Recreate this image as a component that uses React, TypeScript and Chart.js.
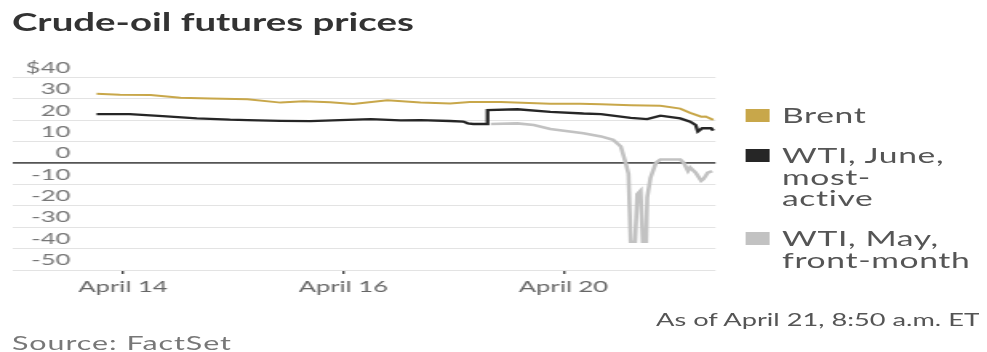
import React, { useEffect, useRef } from "react";
import { Chart, registerables } from "chart.js";

Chart.register(...registerables);

// Trading-day axis: 0 = April 14, 1 = April 15, 2 = April 16, 3 = April 17, 4 = April 20, 5 = April 21
const xTickDays = [0, 2, 4];
const xTickLabels = ["April 14", "April 16", "April 20"];
const yTicks = [40, 30, 20, 10, 0, -10, -20, -30, -40, -50];

const brentTimes = [-0.24, -0.03, 0.25, 0.52, 0.79, 1.13, 1.43, 1.64, 1.88, 2.09, 2.4, 2.7, 2.97, 3.15, 3.43, 3.88, 4.15, 4.34, 4.61, 4.88, 5.06, 5.15, 5.25, 5.29, 5.36];
const brentPrices = [32.4, 32.0, 31.9, 30.6, 30.2, 29.9, 28.3, 28.9, 28.5, 27.7, 29.4, 28.3, 27.9, 28.6, 28.6, 27.8, 27.8, 27.5, 27.1, 26.8, 25.5, 23.5, 21.7, 21.8, 20.2];

const juneTimes = [-0.24, 0.06, 0.36, 0.67, 0.97, 1.13, 1.43, 1.7, 1.97, 2.25, 2.52, 2.7, 2.97, 3.09, 3.13, 3.18, 3.31, 3.31, 3.58, 3.88, 4.18, 4.34, 4.61, 4.76, 4.88, 5.06, 5.15, 5.2, 5.22, 5.26, 5.34, 5.36];
const junePrices = [22.9, 22.9, 22.0, 20.9, 20.3, 20.1, 19.8, 19.6, 20.1, 20.6, 20.0, 20.1, 19.7, 19.4, 18.6, 18.3, 18.3, 24.8, 25.2, 24.0, 23.2, 22.9, 21.2, 20.6, 22.2, 20.9, 19.4, 17.8, 14.8, 16.3, 16.3, 15.2];

const mayTimes = [3.34, 3.58, 3.73, 3.88, 4.18, 4.34, 4.45, 4.52, 4.56, 4.59, 4.61, 4.65, 4.67, 4.7, 4.72, 4.75, 4.76, 4.79, 4.84, 4.88, 5.06, 5.09, 5.13, 5.15, 5.2, 5.25, 5.27, 5.31, 5.35];
const mayPrices = [18.3, 18.6, 17.8, 16.0, 14.0, 12.5, 10.9, 7.8, 0.9, -5.0, -36.8, -36.8, -14.5, -12.9, -36.8, -36.8, -16.0, -6.8, 0.2, 1.7, 1.7, 0.2, -3.7, -2.1, -4.5, -8.3, -7.5, -4.5, -3.7];

const seriesNames = ["Brent", "WTI, June, most-active", "WTI, May, front-month"];
const seriesColors = ["#c8a74a", "#262626", "#c2c2c2"];
const legendLines = [["Brent"], ["WTI, June,", "most-", "active"], ["WTI, May,", "front-month"]];

const STRETCH = 1.6;
const FONT = "Lato, 'Open Sans', sans-serif";

const pts = (xs: number[], ys: number[]) => xs.map((x, i) => ({ x, y: ys[i] }));

function OilChart() {
  const ref = useRef<HTMLCanvasElement | null>(null);
  useEffect(() => {
    if (!ref.current) return;
    const tickFont = { family: FONT, size: 16 };
    const chart = new Chart(ref.current, {
      type: "line",
      data: {
        datasets: [
          { label: seriesNames[2], data: pts(mayTimes, mayPrices), borderColor: seriesColors[2], borderWidth: 2.6 },
          { label: seriesNames[1], data: pts(juneTimes, junePrices), borderColor: seriesColors[1], borderWidth: 2.3 },
          { label: seriesNames[0], data: pts(brentTimes, brentPrices), borderColor: seriesColors[0], borderWidth: 2 },
        ],
      },
      options: {
        animation: false,
        responsive: true,
        maintainAspectRatio: false,
        elements: { point: { radius: 0 }, line: { tension: 0 } },
        layout: { padding: { left: 3.1, right: 9.1, top: 15, bottom: 0 } },
        plugins: { legend: { display: false }, tooltip: { enabled: false } },
        scales: {
          x: {
            type: "linear",
            min: -1,
            max: 5.38,
            afterBuildTicks: (s: any) => {
              s.ticks = xTickDays.map((v) => ({ value: v }));
            },
            afterFit: (s: any) => {
              s.height = 30;
            },
            ticks: {
              autoSkip: false,
              maxRotation: 0,
              padding: 3,
              color: "#666",
              font: tickFont,
              callback: (v: any) => xTickLabels[xTickDays.indexOf(Number(v))] ?? "",
            },
            grid: { drawOnChartArea: false, drawTicks: true, tickLength: 4, color: "#444", lineWidth: 1.4 },
            border: { display: false },
          },
          y: {
            min: -50,
            max: 40,
            afterBuildTicks: (s: any) => {
              s.ticks = yTicks.map((v) => ({ value: v }));
            },
            afterFit: (s: any) => {
              s.width = 0;
            },
            ticks: {
              autoSkip: false,
              mirror: true,
              crossAlign: "far",
              padding: 8,
              labelOffset: -10,
              color: "#777",
              font: tickFont,
              callback: (v: any) => (Number(v) === 40 ? "$40" : String(v)),
            },
            grid: {
              drawTicks: false,
              color: (c: any) => (c.tick && c.tick.value === 0 ? "#555" : "#e3e3e3"),
              lineWidth: (c: any) => (c.tick && c.tick.value === 0 ? 1.7 : 1),
            },
            border: { display: false },
          },
        },
      },
    });
    return () => chart.destroy();
  }, []);
  return <canvas ref={ref} />;
}

export default function App() {
  const u = (x: number) => (x - 8) / STRETCH;
  const legendTop = [106, 146, 229];
  return (
    <div
      style={{
        position: "relative",
        width: 979 / STRETCH,
        height: 344,
        transform: `scaleX(${STRETCH})`,
        transformOrigin: "0 0",
        fontFamily: FONT,
      }}
    >
      <div
        style={{
          position: "absolute",
          left: u(12),
          top: 0,
          lineHeight: "28px",
          fontSize: 24,
          fontWeight: 700,
          color: "#333",
          whiteSpace: "nowrap",
        }}
      >
        Crude-oil futures prices
      </div>
      <div style={{ position: "absolute", left: 0, top: 52, width: u(730), height: 240 }}>
        <OilChart />
      </div>
      {legendLines.map((lines, i) => (
        <div key={i} style={{ position: "absolute", left: u(745), top: legendTop[i] - 8 }}>
          <div
            style={{
              position: "absolute",
              left: 0,
              top: 3,
              width: 25 / STRETCH,
              height: 13,
              background: seriesColors[i],
            }}
          />
          <div
            style={{
              position: "absolute",
              left: u(782) - u(745),
              top: -2,
              fontSize: 21,
              letterSpacing: "0.4px",
              lineHeight: "21.5px",
              color: "#555",
              whiteSpace: "nowrap",
            }}
          >
            {lines.map((l, j) => (
              <div key={j}>{l}</div>
            ))}
          </div>
        </div>
      ))}
      <div
        style={{
          position: "absolute",
          right: (987 - 980) / STRETCH,
          top: 312 - 10,
          lineHeight: "20px",
          fontSize: 17,
          color: "#555",
          whiteSpace: "nowrap",
        }}
      >
        As of April 21, 8:50 a.m. ET
      </div>
      <div
        style={{
          position: "absolute",
          left: u(12),
          top: 335 - 11,
          lineHeight: "22px",
          fontSize: 19,
          letterSpacing: "0.6px",
          color: "#777",
          whiteSpace: "nowrap",
        }}
      >
        Source: FactSet
      </div>
    </div>
  );
}
